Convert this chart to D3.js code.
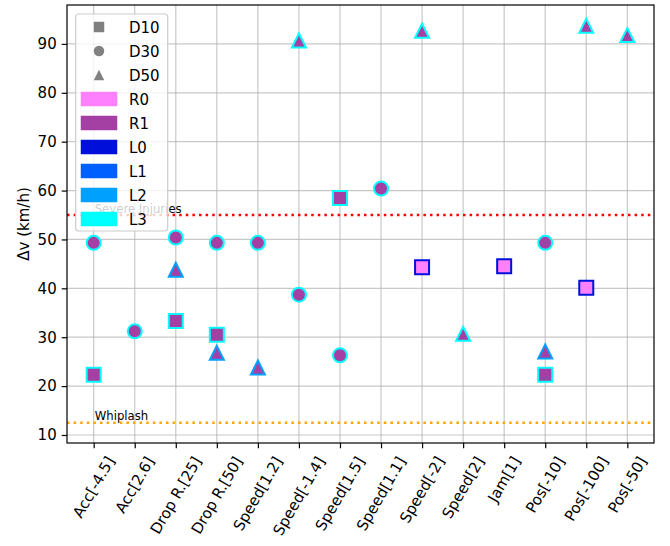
<!DOCTYPE html>
<html>
<head>
<meta charset="utf-8">
<script src="https://cdn.jsdelivr.net/npm/d3@7"></script>
<style>
  html, body { margin: 0; padding: 0; background: #fff; }
  svg { display: block; font-family: "DejaVu Sans", sans-serif; }
</style>
</head>
<body>
<svg id="chart" width="670" height="546"></svg>
<script>
// Scenario categories along the x axis
const categories = ["Acc[-4.5]", "Acc[2.6]", "Drop R.[25]", "Drop R.[50]", "Speed[1.2]",
  "Speed[-1.4]", "Speed[1.5]", "Speed[1.1]", "Speed[-2]", "Speed[2]", "Jam[1]",
  "Pos[-10]", "Pos[-100]", "Pos[-50]"];

// Δv (km/h) per distance setting; null = no point
const d10 = [22.3, null, 33.3, 30.5, null, null, 58.5, null, 44.3, null, 44.5, 22.3, 40.1, null];
const d30 = [49.3, 31.2, 50.4, 49.3, 49.3, 38.7, 26.3, 60.4, null, null, null, 49.3, null, null];
const d50 = [null, null, 43.8, 26.8, 23.8, 90.7, null, null, 92.7, 30.7, null, 27.1, 93.7, 91.8];

// Fill class (R) and edge class (L) for each point
const d10R = ["R1", null, "R1", "R1", null, null, "R1", null, "R0", null, "R0", "R1", "R0", null];
const d10L = ["L3", null, "L3", "L3", null, null, "L3", null, "L0", null, "L0", "L3", "L0", null];
const d30R = ["R1", "R1", "R1", "R1", "R1", "R1", "R1", "R1", null, null, null, "R1", null, null];
const d30L = ["L3", "L3", "L3", "L3", "L3", "L3", "L3", "L3", null, null, null, "L3", null, null];
const d50R = [null, null, "R1", "R1", "R1", "R1", null, null, "R1", "R1", null, "R1", "R1", "R1"];
const d50L = [null, null, "L2", "L2", "L2", "L3", null, null, "L3", "L3", null, "L2", "L3", "L3"];

// Reference thresholds
const thresholds = [
  { label: "Severe Injuries", value: 55, color: "#ff0000" },
  { label: "Whiplash", value: 12.5, color: "#ffa500" }
];

const yTicks = [10, 20, 30, 40, 50, 60, 70, 80, 90];

const shapeNames = ["D10", "D30", "D50"];
const colorNames = ["R0", "R1", "L0", "L1", "L2", "L3"];
const colorValues = ["#ff80ff", "#a43fa4", "#0010da", "#0060ff", "#00a0ff", "#00ffff"];
const colorOf = d3.scaleOrdinal().domain(colorNames).range(colorValues);

const svg = d3.select("#chart");
const plotL = 67, plotR = 654, plotT = 5, plotB = 443;
const fs = 15;

const x = d3.scaleLinear().domain([-0.65, categories.length - 1 + 0.65]).range([plotL, plotR]);
const y = d3.scaleLinear().domain([8.36, 97.96]).range([plotB, plotT]);

// Grid
const grid = svg.append("g");
grid.selectAll("line.gx").data(categories).join("line")
  .attr("x1", (d, i) => x(i)).attr("x2", (d, i) => x(i))
  .attr("y1", plotT).attr("y2", plotB)
  .attr("stroke", "#b0b0b0").attr("stroke-opacity", 0.7).attr("stroke-width", 1.2);
grid.selectAll("line.gy").data(yTicks).join("line")
  .attr("x1", plotL).attr("x2", plotR)
  .attr("y1", d => y(d)).attr("y2", d => y(d))
  .attr("stroke", "#b0b0b0").attr("stroke-opacity", 0.7).attr("stroke-width", 1.2);

// Threshold lines with labels
thresholds.forEach(t => {
  svg.append("line")
    .attr("x1", plotL).attr("x2", plotR)
    .attr("y1", y(t.value)).attr("y2", y(t.value))
    .attr("stroke", t.color).attr("stroke-width", 2.5)
    .attr("stroke-dasharray", "2.5,4.1");
  svg.append("text")
    .attr("x", x(0) + 1).attr("y", y(t.value) - 2.5)
    .attr("font-size", 11.7).attr("fill", "#000")
    .text(t.label);
});

// Markers
const S = 14;
function markerPath(shape, s) {
  const h = s / 2;
  if (shape === "D10") return `M${-h},${-h}H${h}V${h}H${-h}Z`;
  if (shape === "D50") return `M0,${-h}L${h},${h}L${-h},${h}Z`;
  return d3.symbol(d3.symbolCircle, Math.PI * h * h)();
}

const series = [
  { shape: "D30", values: d30, fill: d30R, edge: d30L },
  { shape: "D10", values: d10, fill: d10R, edge: d10L },
  { shape: "D50", values: d50, fill: d50R, edge: d50L }
];
const marks = svg.append("g");
series.forEach(s => {
  const pts = s.values.map((v, i) => ({ i, v, r: s.fill[i], l: s.edge[i] })).filter(p => p.v !== null);
  marks.append("g").selectAll("path").data(pts).join("path")
    .attr("transform", p => `translate(${x(p.i)},${y(p.v)})`)
    .attr("d", markerPath(s.shape, S))
    .attr("fill", p => colorOf(p.r))
    .attr("stroke", p => colorOf(p.l))
    .attr("stroke-width", 2);
});

// Axes
const yAxis = d3.axisLeft(y).tickValues(yTicks).tickSize(5.3).tickPadding(5);
const yg = svg.append("g").attr("transform", `translate(${plotL},0)`).call(yAxis);
yg.select(".domain").remove();
yg.selectAll("line").attr("stroke", "#000").attr("stroke-width", 1.2);
yg.selectAll("text").attr("font-size", fs).attr("font-family", "DejaVu Sans").attr("fill", "#000");

const xAxis = d3.axisBottom(x).tickValues(d3.range(categories.length)).tickSize(5.3).tickFormat(() => "");
const xg = svg.append("g").attr("transform", `translate(0,${plotB})`).call(xAxis);
xg.select(".domain").remove();
xg.selectAll("line").attr("stroke", "#000").attr("stroke-width", 1.2);

// Rotated category labels, bounding box centred under each tick
const labelTop = plotB + 10.6;
const cos60 = 0.5, sin60 = Math.sqrt(3) / 2, hBox = 1.16 * fs;
categories.forEach((c, i) => {
  const t = svg.append("text")
    .attr("font-size", fs).attr("text-anchor", "middle").attr("fill", "#000")
    .attr("y", 5.2).text(c);
  const L = t.node().getComputedTextLength();
  const H = L * sin60 + hBox * cos60;
  t.attr("transform", `translate(${x(i)},${labelTop + H / 2}) rotate(-60)`);
});

// Y axis title
svg.append("text")
  .attr("transform", `translate(28.7,${(plotT + plotB) / 2}) rotate(-90)`)
  .attr("text-anchor", "middle").attr("font-size", fs).attr("fill", "#000")
  .text("Δv (km/h)");

// Frame
svg.append("rect")
  .attr("x", plotL).attr("y", plotT).attr("width", plotR - plotL).attr("height", plotB - plotT)
  .attr("fill", "none").attr("stroke", "#000").attr("stroke-width", 1.2);

// Legend
const lg = svg.append("g");
lg.append("rect")
  .attr("x", 75.7).attr("y", 14).attr("width", 92).attr("height", 217).attr("rx", 3)
  .attr("fill", "#fff").attr("fill-opacity", 0.8)
  .attr("stroke", "#cccccc").attr("stroke-width", 1.2);
const entries = shapeNames.map(n => ({ name: n, kind: "shape" }))
  .concat(colorNames.map(n => ({ name: n, kind: "color" })));
entries.forEach((e, k) => {
  const cy = 27 + k * 24;
  if (e.kind === "shape") {
    lg.append("path")
      .attr("transform", `translate(99,${cy})`)
      .attr("d", markerPath(e.name, 10.5))
      .attr("fill", "#808080");
  } else {
    lg.append("rect")
      .attr("x", 81).attr("y", cy - 7).attr("width", 36).attr("height", 14)
      .attr("fill", colorOf(e.name)).attr("stroke", colorOf(e.name)).attr("stroke-width", 0.5);
  }
  lg.append("text")
    .attr("x", 129).attr("y", cy + 5.5)
    .attr("font-size", fs).attr("fill", "#000")
    .text(e.name);
});
</script>
</body>
</html>
